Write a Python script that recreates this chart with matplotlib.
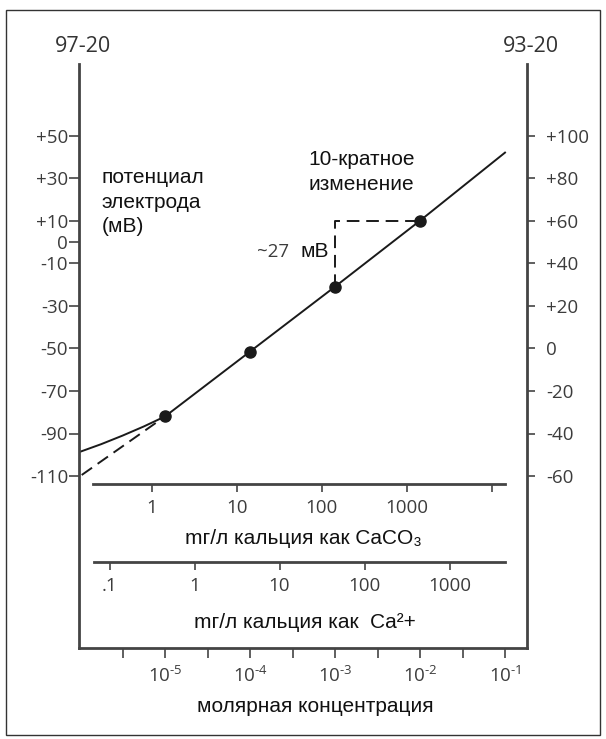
import matplotlib
matplotlib.use('Agg')
import matplotlib.pyplot as plt
from matplotlib.ticker import FixedLocator, NullFormatter
from matplotlib.patches import Rectangle

# electrode response: molar Ca2+ concentration vs potential (mV, 97-20 scale)
molar = [1e-5, 1e-4, 1e-3, 1e-2, 1e-1]
potential = [-82, -51.5, -21, 10, 42]
# non-linear part at low concentration
low_molar = [1e-6, 10**-5.75, 10**-5.5, 10**-5.25, 1e-5]
low_potential = [-98.6, -95.0, -91.0, -86.7, -82]
# extrapolation of the linear part
extrap_molar = [10**-5.98, 1e-5]
extrap_potential = [-109.5, -82]

left_ticks = [50, 30, 10, 0, -10, -30, -50, -70, -90, -110]
right_ticks = [100, 80, 60, 40, 20, 0, -20, -40, -60]
right_offset = 50  # 93-20 reads 50 mV higher than 97-20

caco3_ticks = [1, 10, 100, 1000, 10000]
caco3_labels = ['1', '10', '100', '1000', '']
ca_ticks = [0.1, 1, 10, 100, 1000]
ca_labels = ['.1', '1', '10', '100', '1000']
molar_major = [1e-5, 1e-4, 1e-3, 1e-2, 1e-1]
molar_minor = [10**-5.5, 10**-4.5, 10**-3.5, 10**-2.5, 10**-1.5]
molar_exp = [5, 4, 3, 2, 1]


def signed(v):
    return '0' if v == 0 else '%+d' % v


plt.rcParams['font.family'] = ['Open Sans', 'DejaVu Sans']
plt.rcParams['mathtext.fontset'] = 'custom'
plt.rcParams['mathtext.rm'] = 'Open Sans'

W, H = 606, 739
fig = plt.figure(figsize=(W / 100, H / 100), dpi=100)


def fx(px):
    return px / W


def fy(py):
    return 1 - py / H


AX = '#444444'
TXT = '#3c3c3c'
LINE = '#1a1a1a'
CYR = ['Liberation Sans', 'DejaVu Sans']
TS = 13.5

# main axes: x = molar concentration, y = potential (97-20)
x0, x1, y0, y1 = 79.3, 526.7, 64, 647.7
ax = fig.add_axes([fx(x0), fy(y1), fx(x1) - fx(x0), fy(y0) - fy(y1)])
ax.set_xscale('log')
ax.set_xlim(10**((x0 - 335) / 85 - 3), 10**((x1 - 335) / 85 - 3))
ax.set_ylim(10 - (y1 - 220.7) / 2.128, 10 - (y0 - 220.7) / 2.128)
ax.patch.set_visible(False)
ax.spines['top'].set_visible(False)
ax.spines['right'].set_visible(False)
for s in ['left', 'bottom']:
    ax.spines[s].set_linewidth(2)
    ax.spines[s].set_color(AX)

ax.set_yticks(left_ticks, [signed(v) for v in left_ticks])
ax.tick_params(axis='y', direction='out', length=7, width=1.2, color=AX,
               labelcolor=TXT, labelsize=TS, pad=1)
ax.set_xticks(molar_major, ['$\\mathregular{10^{\\text{-}%d}}$' % e for e in molar_exp])
ax.xaxis.set_minor_locator(FixedLocator(molar_minor))
ax.xaxis.set_minor_formatter(NullFormatter())
ax.tick_params(axis='x', which='both', direction='out', length=7, width=1.2,
               color=AX, labelcolor=TXT, labelsize=TS, pad=6)

sec = ax.secondary_yaxis('right', functions=(lambda v: v + right_offset,
                                              lambda v: v - right_offset))
sec.set_yticks(right_ticks, [signed(v) for v in right_ticks])
sec.spines['right'].set_linewidth(2)
sec.spines['right'].set_color(AX)
sec.tick_params(axis='y', direction='out', length=6, width=1.2, color=AX,
                labelcolor=TXT, labelsize=TS, pad=8)

# curve
ax.plot(molar, potential, color=LINE, lw=1.4)
ax.plot(low_molar, low_potential, color=LINE, lw=1.4)
ax.plot(extrap_molar, extrap_potential, color=LINE, lw=1.4, ls=(0, (6.5, 3.5)))
ax.plot(molar[:4], potential[:4], 'o', color=LINE, ms=8)
# 10-fold change marker
ax.plot([molar[2], molar[2], molar[3]], [potential[2], potential[3], potential[3]],
        color=LINE, lw=1.4, ls=(0, (6.5, 3.5)))


def conc_axis(px_l, px_r, py, one_px, ticks, labels):
    a = fig.add_axes([fx(px_l), fy(py), fx(px_r) - fx(px_l), 0.0001])
    a.set_xscale('log')
    a.set_xlim(10**((px_l - one_px) / 85), 10**((px_r - one_px) / 85))
    a.patch.set_visible(False)
    for s in ['top', 'left', 'right']:
        a.spines[s].set_visible(False)
    a.spines['bottom'].set_linewidth(2)
    a.spines['bottom'].set_color(AX)
    a.set_yticks([])
    a.set_xticks(ticks, labels)
    a.xaxis.set_minor_locator(FixedLocator([]))
    a.tick_params(axis='x', direction='out', length=6, width=1.2, color=AX,
                  labelcolor=TXT, labelsize=TS, pad=5)
    return a


conc_axis(93.3, 505, 484, 151.7, caco3_ticks, caco3_labels)
conc_axis(94.3, 505, 561.7, 194.5, ca_ticks, ca_labels)

# texts
fig.text(fx(82.5), fy(47), '97-20', ha='center', va='center', fontsize=15.5, color='#333333')
fig.text(fx(531), fy(47), '93-20', ha='center', va='center', fontsize=15.5, color='#333333')
for s, yb in [('потенциал', 183.3), ('электрода', 207.7), ('(мВ)', 232)]:
    fig.text(fx(101.7), fy(yb), s, ha='left', va='baseline', fontsize=15,
             family=CYR, color='#111111')
for s, yb in [('10-кратное', 165), ('изменение', 190)]:
    fig.text(fx(308), fy(yb), s, ha='left', va='baseline', fontsize=15,
             family=CYR, color='#111111')
fig.text(fx(256.7), fy(257), '~27', ha='left', va='baseline', fontsize=TS, color=TXT)
fig.text(fx(300), fy(257), 'мВ', ha='left', va='baseline', fontsize=15,
         family=CYR, color='#111111')
fig.text(fx(303), fy(538), 'mг/л кальция как CaCO₃', ha='center', va='center',
         fontsize=15, family=CYR, color='#111111')
fig.text(fx(305), fy(622), 'mг/л кальция как  Ca²+', ha='center', va='center',
         fontsize=15, family=CYR, color='#111111')
fig.text(fx(315), fy(707), 'молярная концентрация', ha='center', va='center',
         fontsize=15, family=CYR, color='#111111')

fig.patches.append(Rectangle((fx(6), fy(735)), fx(600) - fx(6), fy(10) - fy(735),
                             transform=fig.transFigure, fill=False, ec='#333333', lw=1))

fig.savefig('out.png', dpi=100)
